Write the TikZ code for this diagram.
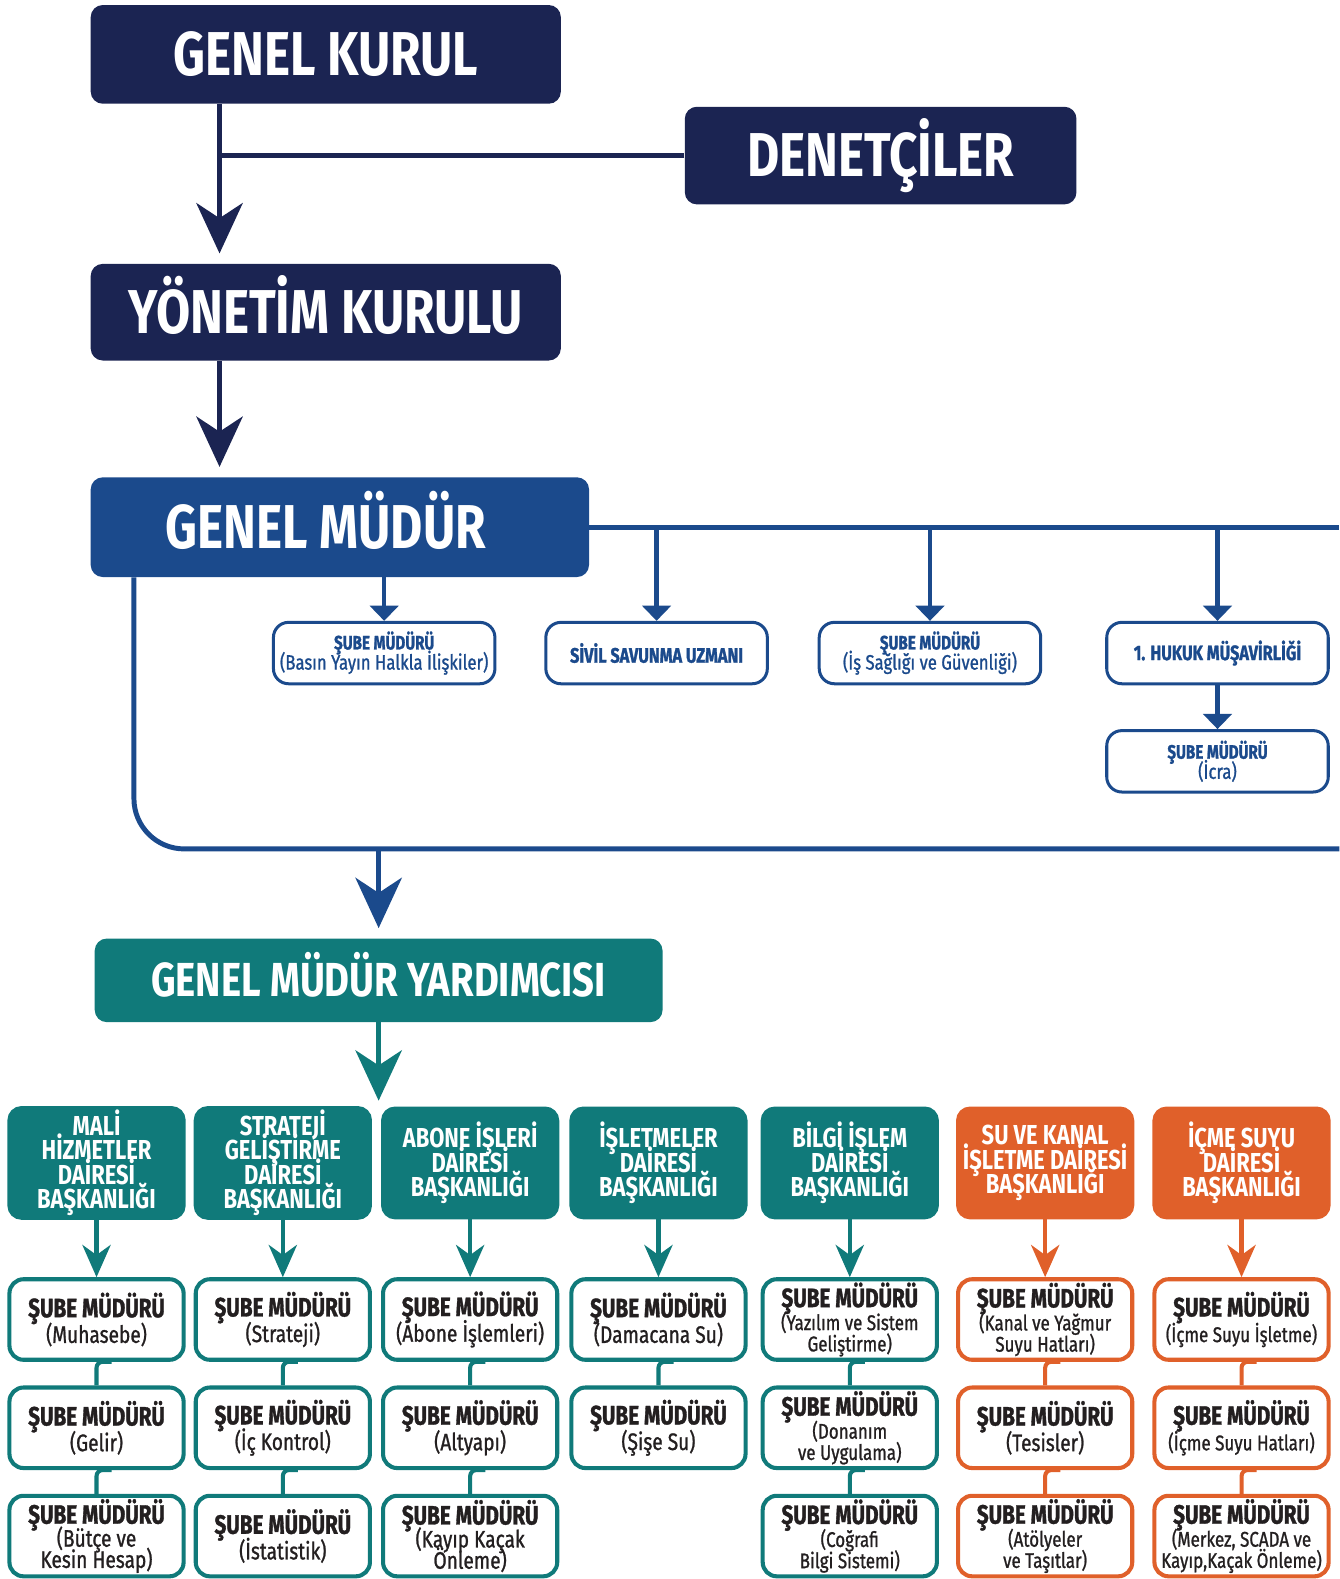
\documentclass[tikz,border=0pt]{standalone}
\usepackage{fontspec}
\setmainfont[FakeStretch=0.8]{Fira Sans}
\newfontfamily\midfont[FakeStretch=0.8, FakeBold=1]{Fira Sans}
\newfontfamily\heavyfont[FakeStretch=0.78, BoldFeatures={FakeBold=1.2}]{Fira Sans}
\usetikzlibrary{matrix, arrows.meta}

\definecolor{kurulnavy}{RGB}{27,36,82}
\definecolor{mudurblue}{RGB}{27,74,140}
\definecolor{daireteal}{RGB}{16,122,122}
\definecolor{daireorange}{RGB}{224,96,42}
\definecolor{subetext}{RGB}{35,31,32}

\newcommand{\sube}{{\fontsize{15}{12}\selectfont\heavyfont\bfseries ŞUBE MÜDÜRÜ}}
\newcommand{\subeblue}{{\fontsize{11}{10}\selectfont\heavyfont\bfseries ŞUBE MÜDÜRÜ}}
\newcommand{\linegap}[1]{\setlength{\baselineskip}{#1}\setlength{\lineskiplimit}{-20pt}}

\begin{document}
\begin{tikzpicture}[x=0.02cm, y=-0.02cm,
  board/.style={fill=#1, text=white, rounded corners=0.24cm, anchor=center, inner sep=0pt,
    text height=24pt, text depth=0pt, font=\fontsize{35}{40}\selectfont\bfseries},
  small/.style={draw=mudurblue, fill=white, line width=1.7pt, rounded corners=0.3cm, text=mudurblue,
    align=center, minimum width=4.4cm, minimum height=1.22cm, inner sep=1pt, anchor=center,
    font=\fontsize{11.8}{11.4}\selectfont\midfont, execute at begin node={\linegap{11.4pt}}},
  head/.style={fill=#1, draw=#1, line width=2.3pt, rounded corners=0.24cm, text=white, align=center,
    minimum width=3.46cm, minimum height=2.16cm, inner sep=1pt, anchor=center,
    font=\fontsize{15.5}{13.8}\selectfont\bfseries, execute at begin node={\linegap{13.8pt}}},
  sub/.style={draw=#1, fill=white, line width=2.3pt, rounded corners=0.28cm, text=subetext, align=center,
    minimum width=3.46cm, minimum height=1.6cm, inner sep=1pt, anchor=center,
    font=\fontsize{13.5}{12}\selectfont\midfont, execute at begin node={\linegap{12pt}}},
  dense/.style={font=\fontsize{12}{12}\selectfont\midfont},
  link/.style={draw=#1, line width=2.8pt},
  bigarrow/.style={draw=#1, line width=2.8pt, -{Stealth[length=1cm, width=0.92cm, inset=0.3cm]}},
  midarrow/.style={draw=#1, line width=2.6pt, -{Stealth[length=0.64cm, width=0.56cm, inset=0.2cm]}},
  tinyarrow/.style={draw=#1, line width=2.6pt, -{Triangle[length=0.3cm, width=0.56cm]}},
  tie/.style={draw=#1, line width=2.3pt, rounded corners=0.12cm}]
\useasboundingbox (0,0) rectangle (1330,1568);

% top boards
\node[board=kurulnavy, minimum width=9.34cm, minimum height=1.96cm] (gk) at (323.5,54) {GENEL KURUL};
\node[board=kurulnavy, minimum width=7.78cm, minimum height=1.94cm] (den) at (874.5,154.5) {DENETÇİLER};
\node[board=kurulnavy, minimum width=9.34cm, minimum height=1.92cm] (yk) at (323.5,310) {YÖNETİM KURULU};
\node[board=mudurblue, minimum width=9.9cm, minimum height=1.98cm] (gm) at (337.5,523.5) {GENEL MÜDÜR\hspace*{0.56cm}};

\coordinate (j1) at (218,153);
\coordinate (edge) at (1330,522);
\coordinate (loop) at (133,843);

\draw[link=kurulnavy] (den.west) -- (den.west -| j1);
\draw[bigarrow=kurulnavy, shorten >=0.2cm] (gk.south -| j1) -- (yk.north -| j1);
\draw[bigarrow=kurulnavy, shorten >=0.2cm] (yk.south -| j1) -- (gm.north -| j1);

% genel mudur staff
\node[small] (b1) at (381.5,648.5) {\subeblue\\(Basın Yayın Halkla İlişkiler)};
\node[small] (b2) at (652,648.5) {\heavyfont\bfseries SİVİL SAVUNMA UZMANI};
\node[small] (b3) at (923.5,648.5) {\subeblue\\(İş Sağlığı ve Güvenliği)};
\node[small] (b4) at (1209,648.5) {\heavyfont\bfseries 1. HUKUK MÜŞAVİRLİĞİ};
\node[small] (icra) at (1209,756) {\subeblue\\(İcra)};

\draw[link=mudurblue] (gm.east) -- (gm.east -| edge);
\draw[tinyarrow=mudurblue] (gm.south -| b1.north) -- (b1.north);
\draw[tinyarrow=mudurblue] (b2.north |- gm.east) -- (b2.north);
\draw[tinyarrow=mudurblue] (b3.north |- gm.east) -- (b3.north);
\draw[tinyarrow=mudurblue] (b4.north |- gm.east) -- (b4.north);
\draw[tinyarrow=mudurblue] (b4) -- (icra);
\draw[link=mudurblue, rounded corners=1cm] (gm.south -| loop) -- (loop) -- (loop -| edge);

\node[board=daireteal, minimum width=11.28cm, minimum height=1.66cm, text height=18.6pt,
  font=\fontsize{27}{30}\selectfont\bfseries] (gmy) at (376,973.5) {GENEL MÜDÜR YARDIMCISI};
\draw[bigarrow=mudurblue, shorten >=0.2cm] (gmy.north |- loop) -- (gmy.north);

% daire baskanliklari
\matrix (grid) [anchor=north west, inner sep=0pt, column sep=0.16cm, row sep=0.47cm] at (7,1098) {
  \node[head=daireteal] (h1) {MALİ\\HİZMETLER\\DAİRESİ\\BAŞKANLIĞI}; &
  \node[head=daireteal] (h2) {STRATEJİ\\GELİŞTİRME\\DAİRESİ\\BAŞKANLIĞI}; &[0.02cm]
  \node[head=daireteal] (h3) {ABONE İŞLERİ\\DAİRESİ\\BAŞKANLIĞI}; &[0.04cm]
  \node[head=daireteal] (h4) {İŞLETMELER\\DAİRESİ\\BAŞKANLIĞI}; &[0.1cm]
  \node[head=daireteal] (h5) {BİLGİ İŞLEM\\DAİRESİ\\BAŞKANLIĞI}; &[0.18cm]
  \node[head=daireorange] (h6) {SU VE KANAL\\İŞLETME DAİRESİ\\BAŞKANLIĞI}; &[0.2cm]
  \node[head=daireorange] (h7) {İÇME SUYU\\DAİRESİ\\BAŞKANLIĞI}; \\[0.67cm]
  \node[sub=daireteal] (s11) {\sube\\[2.5pt](Muhasebe)}; &
  \node[sub=daireteal] (s21) {\sube\\[2.5pt](Strateji)}; &
  \node[sub=daireteal] (s31) {\sube\\[2.5pt](Abone İşlemleri)}; &
  \node[sub=daireteal] (s41) {\sube\\[2.5pt](Damacana Su)}; &
  \node[sub=daireteal, dense] (s51) {\sube\\[1pt](Yazılım ve Sistem\\Geliştirme)}; &
  \node[sub=daireorange, dense] (s61) {\sube\\[1pt](Kanal ve Yağmur\\Suyu Hatları)}; &
  \node[sub=daireorange, dense] (s71) {\sube\\[2.5pt](İçme Suyu İşletme)}; \\
  \node[sub=daireteal] (s12) {\sube\\[2.5pt](Gelir)}; &
  \node[sub=daireteal] (s22) {\sube\\[2.5pt](İç Kontrol)}; &
  \node[sub=daireteal] (s32) {\sube\\[2.5pt](Altyapı)}; &
  \node[sub=daireteal] (s42) {\sube\\[2.5pt](Şişe Su)}; &
  \node[sub=daireteal, dense] (s52) {\sube\\[1pt](Donanım\\ve Uygulama)}; &
  \node[sub=daireorange] (s62) {\sube\\[2.5pt](Tesisler)}; &
  \node[sub=daireorange, dense] (s72) {\sube\\[2.5pt](İçme Suyu Hatları)}; \\
  \node[sub=daireteal] (s13) {\sube\\[1pt](Bütçe ve\\Kesin Hesap)}; &
  \node[sub=daireteal] (s23) {\sube\\[2.5pt](İstatistik)}; &
  \node[sub=daireteal] (s33) {\sube\\[1pt](Kayıp Kaçak\\Önleme)}; &
  &
  \node[sub=daireteal, dense] (s53) {\sube\\[1pt](Coğrafi\\Bilgi Sistemi)}; &
  \node[sub=daireorange, dense] (s63) {\sube\\[1pt](Atölyeler\\ve Taşıtlar)}; &
  \node[sub=daireorange, dense] (s73) {\sube\\[1pt](Merkez, SCADA ve\\Kayıp,Kaçak Önleme)}; \\
};

\draw[bigarrow=daireteal, shorten >=0.1cm] (gmy.south) -- (gmy.south |- grid.north);

\draw[midarrow=daireteal] (h1) -- (s11);
\draw[midarrow=daireteal] (h2) -- (s21);
\draw[midarrow=daireteal] (h3) -- (s31);
\draw[midarrow=daireteal] (h4) -- (s41);
\draw[midarrow=daireteal] (h5) -- (s51);
\draw[midarrow=daireorange] (h6) -- (s61);
\draw[midarrow=daireorange] (h7) -- (s71);

\draw[tie=daireteal] ([xshift=0.3cm]s11.south) -| (s12.north);
\draw[tie=daireteal] ([xshift=0.3cm]s12.south) -| (s13.north);
\draw[tie=daireteal] ([xshift=0.3cm]s21.south) -| (s22.north);
\draw[tie=daireteal] ([xshift=0.3cm]s22.south) -| (s23.north);
\draw[tie=daireteal] ([xshift=0.3cm]s31.south) -| (s32.north);
\draw[tie=daireteal] ([xshift=0.3cm]s32.south) -| (s33.north);
\draw[tie=daireteal] ([xshift=0.3cm]s41.south) -| (s42.north);
\draw[tie=daireteal] ([xshift=0.3cm]s51.south) -| (s52.north);
\draw[tie=daireteal] ([xshift=0.3cm]s52.south) -| (s53.north);
\draw[tie=daireorange] ([xshift=0.3cm]s61.south) -| (s62.north);
\draw[tie=daireorange] ([xshift=0.3cm]s62.south) -| (s63.north);
\draw[tie=daireorange] ([xshift=0.3cm]s71.south) -| (s72.north);
\draw[tie=daireorange] ([xshift=0.3cm]s72.south) -| (s73.north);
\end{tikzpicture}
\end{document}
